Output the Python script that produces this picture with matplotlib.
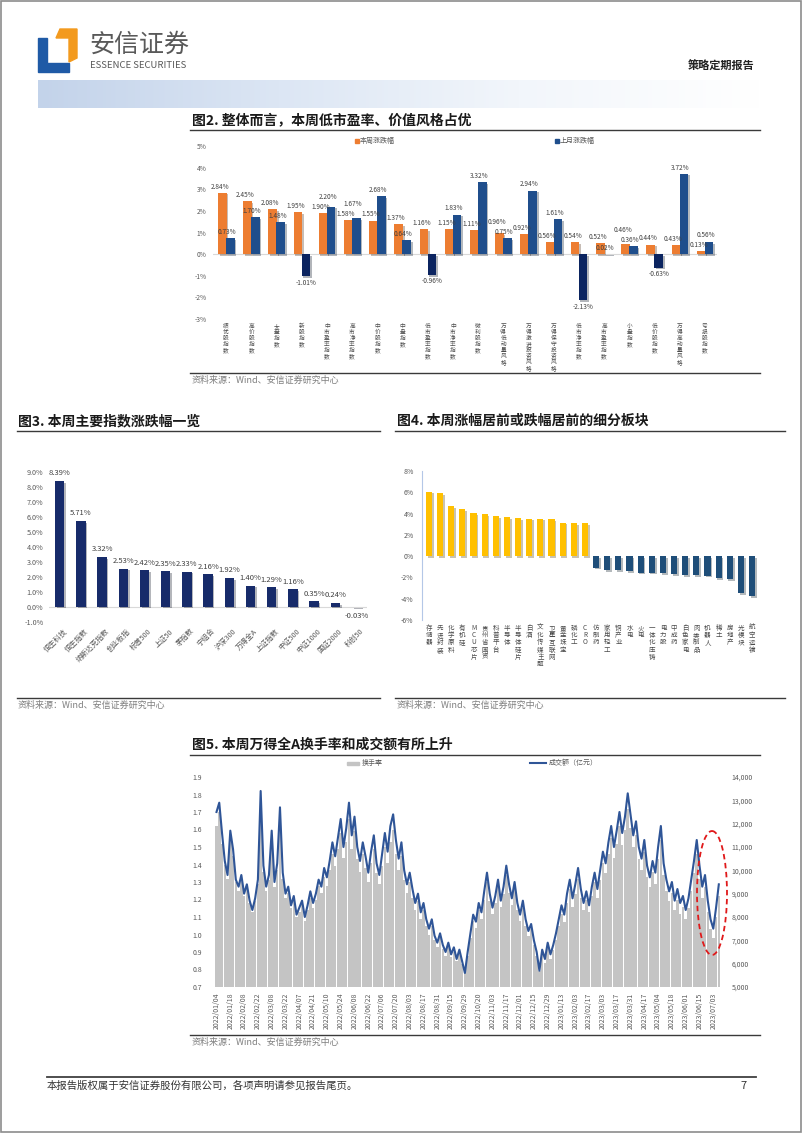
import numpy as np
import matplotlib.pyplot as plt
import matplotlib.patheffects as pe
from matplotlib.patches import Rectangle, Polygon, Ellipse
from matplotlib.colors import LinearSegmentedColormap

plt.rcParams['font.family'] = ['Noto Sans CJK SC', 'DejaVu Sans']
plt.rcParams['axes.unicode_minus'] = False

# ---- fig 2: style indices, this week vs last month (%)
style_names = ['绩优股指数', '高价股指数', '大盘指数', '新股指数', '中市盈率指数', '高市净率指数',
               '中价股指数', '中盘指数', '低市盈率指数', '中市净率指数', '微利股指数', '万得低动量风格',
               '万得激进投资风格', '万得保守投资风格', '低市净率指数', '高市盈率指数', '小盘指数',
               '低价股指数', '万得高动量风格', '亏损股指数']
week_chg = [2.84, 2.45, 2.08, 1.95, 1.90, 1.58, 1.55, 1.37, 1.16, 1.15, 1.11, 0.96, 0.92,
            0.56, 0.54, 0.52, 0.46, 0.44, 0.43, 0.13]
month_chg = [0.73, 1.70, 1.48, -1.01, 2.20, 1.67, 2.68, 0.64, -0.96, 1.83, 3.32, 0.75, 2.94,
             1.61, -2.13, 0.02, 0.36, -0.63, 3.72, 0.56]

# ---- fig 3: major indices this week (%)
index_names = ['恒生科技', '恒生指数', '纳斯达克指数', '创业板指', '标普500', '上证50', '茅指数',
               '宁组合', '沪深300', '万得全A', '上证指数', '中证500', '中证1000', '国证2000', '科创50']
index_chg = [8.39, 5.71, 3.32, 2.53, 2.42, 2.35, 2.33, 2.16, 1.92, 1.40, 1.29, 1.16, 0.35, 0.24, -0.03]

# ---- fig 4: top / bottom sub-sectors (%)
sector_names = ['存储器', '先进封装', '化学原料', '有机硅', 'MCU芯片', '贵州省国资', '科普平台', '半导体',
                '半导体硅片', '白酒', '文化传媒主题', '卫星互联网', '黄金珠宝', '磷化工', 'CRO',
                '仿制药', '家用轻工', '铜产业', '水电', '火电', '一体化压铸', '电力股', '中成药',
                '白色家电', '肉类制品', '机器人', '稀土', '房地产', '光模块', '航空运输']
sector_chg = [6.05, 5.90, 4.72, 4.43, 4.03, 3.96, 3.77, 3.65, 3.58, 3.52, 3.52, 3.49, 3.14, 3.11, 3.08,
              -1.07, -1.29, -1.29, -1.42, -1.54, -1.54, -1.60, -1.70, -1.76, -1.79, -1.82, -2.04,
              -2.14, -3.49, -3.74]

# ---- fig 5: Wind All A turnover rate (%) and amount (亿元), one value per two trading days
turnover = [1.62, 1.70, 1.52, 1.40, 1.32, 1.55, 1.45, 1.30, 1.25, 1.31,
            1.22, 1.27, 1.18, 1.13, 1.19, 1.29, 1.70, 1.36, 1.25, 1.31,
            1.52, 1.27, 1.37, 1.62, 1.32, 1.21, 1.24, 1.15, 1.19, 1.10,
            1.13, 1.17, 1.08, 1.14, 1.21, 1.15, 1.20, 1.28, 1.24, 1.33,
            1.28, 1.37, 1.46, 1.39, 1.49, 1.58, 1.44, 1.53, 1.66, 1.49,
            1.59, 1.43, 1.36, 1.46, 1.38, 1.30, 1.41, 1.49, 1.35, 1.29,
            1.39, 1.50, 1.41, 1.53, 1.60, 1.46, 1.37, 1.45, 1.31, 1.24,
            1.30, 1.21, 1.14, 1.19, 1.09, 1.14, 1.05, 1.00, 1.05, 0.97,
            0.93, 0.98, 0.92, 0.88, 0.93, 0.87, 0.90, 0.85, 0.89, 0.83,
            0.78, 0.88, 0.98, 1.08, 1.04, 1.14, 1.09, 1.20, 1.30, 1.19,
            1.12, 1.18, 1.27, 1.16, 1.23, 1.34, 1.24, 1.17, 1.26, 1.14,
            1.08, 1.15, 1.05, 0.99, 1.03, 0.94, 0.88, 0.79, 0.89, 0.84,
            0.93, 0.86, 0.91, 0.97, 1.05, 1.12, 1.07, 1.18, 1.26, 1.16,
            1.23, 1.32, 1.21, 1.14, 1.20, 1.13, 1.22, 1.30, 1.21, 1.31,
            1.41, 1.35, 1.46, 1.55, 1.44, 1.52, 1.62, 1.51, 1.60, 1.72,
            1.61, 1.50, 1.57, 1.43, 1.37, 1.47, 1.33, 1.27, 1.36, 1.29,
            1.43, 1.54, 1.34, 1.25, 1.19, 1.24, 1.14, 1.20, 1.12, 1.16,
            1.09, 1.15, 1.25, 1.35, 1.46, 1.32, 1.21, 1.27, 1.13, 1.03,
            0.98, 1.10, 1.22]
amount = [12500, 12900, 11600, 10400, 9800, 11700, 10900, 9600, 9300, 9800,
          9000, 9400, 8700, 8300, 8800, 9600, 13400, 10200, 9300, 9800,
          11700, 9500, 10300, 12700, 9900, 9000, 9300, 8500, 8900, 8100,
          8400, 8700, 8000, 8500, 9100, 8600, 9000, 9600, 9300, 10100,
          9700, 10400, 11200, 10600, 11400, 12200, 11000, 11800, 12900, 11500,
          12300, 11000, 10400, 11200, 10600, 9900, 10800, 11500, 10300, 9800,
          10700, 11600, 10800, 11900, 12400, 11300, 10500, 11200, 10000, 9400,
          9900, 9200, 8600, 9000, 8200, 8600, 7900, 7500, 7900, 7200,
          6900, 7300, 6800, 6500, 6900, 6400, 6700, 6200, 6600, 6100,
          5600, 6500, 7300, 8100, 7800, 8600, 8200, 9100, 9900, 9000,
          8400, 8900, 9600, 8700, 9300, 10200, 9400, 8800, 9500, 8600,
          8100, 8700, 7900, 7400, 7700, 7000, 6500, 5700, 6600, 6200,
          6900, 6400, 6800, 7300, 7900, 8500, 8100, 9000, 9600, 8800,
          9400, 10100, 9200, 8600, 9100, 8500, 9300, 9900, 9200, 10000,
          10800, 10300, 11200, 11900, 11000, 11700, 12500, 11600, 12300, 13300,
          12400, 11500, 12100, 11000, 10500, 11300, 10200, 9700, 10400, 9900,
          11000, 11900, 10300, 9600, 9100, 9500, 8700, 9200, 8600, 8900,
          8300, 8800, 9600, 10400, 11300, 10200, 9300, 9800, 8700, 7900,
          7500, 8400, 9400]
date_labels = ['2022/01/04', '2022/01/18', '2022/02/08', '2022/02/22', '2022/03/08', '2022/03/22',
               '2022/04/07', '2022/04/21', '2022/05/10', '2022/05/24', '2022/06/08', '2022/06/22',
               '2022/07/06', '2022/07/20', '2022/08/03', '2022/08/17', '2022/08/31', '2022/09/15',
               '2022/09/29', '2022/10/20', '2022/11/03', '2022/11/17', '2022/12/01', '2022/12/15',
               '2022/12/29', '2023/01/13', '2023/02/03', '2023/02/17', '2023/03/03', '2023/03/17',
               '2023/03/31', '2023/04/17', '2023/05/04', '2023/05/18', '2023/06/01', '2023/06/15',
               '2023/07/03']

W, H = 802, 1133
fig = plt.figure(figsize=(W / 100, H / 100), dpi=100)
page = fig.add_axes([0, 0, 1, 1])
page.axis('off')


def box(x0, y0, x1, y1):
    # axes placed by page pixel coordinates
    a = fig.add_axes([x0 / W, 1 - y1 / H, (x1 - x0) / W, (y1 - y0) / H])
    a.set_facecolor('none')
    for s in a.spines.values():
        s.set_visible(False)
    return a


def stacked_labels(ax, names, ytop, size, step):
    # one character per line, like Excel's stacked category text
    ax.set_xticks([])
    y0 = ax.get_ylim()[0]
    for i, s in enumerate(names):
        px = ax.transData.transform((i, y0))[0]
        for j, ch in enumerate(s):
            page.text(px, ytop + j * step, ch, fontsize=size, color='#4a4a4a', ha='center', va='center')


shadow = [pe.SimplePatchShadow(offset=(1.2, -1.2), alpha=0.3), pe.Normal()]
grey_txt = '#595959'
source = '资料来源：Wind、安信证券研究中心'

# ---- page header / footer
band = LinearSegmentedColormap.from_list('band', ['#C3D3EA', '#DCE6F4', '#F2F6FB', '#FFFFFF'])
page.imshow(np.linspace(0, 1, 256).reshape(1, -1), extent=[38, 760, 108, 80], aspect='auto', cmap=band)
page.add_patch(Rectangle((1, 1), W - 2, H - 2, fill=False, ec='#8c8c8c', lw=1.2))
page.add_patch(Polygon([(38, 38), (47, 38), (47, 63), (69, 63), (69, 72), (38, 72)], color='#1F5AA6'))
page.add_patch(Polygon([(60, 29), (77, 29), (77, 58), (69, 62), (69, 38), (56, 38)], color='#F39A1E'))
page.text(89, 45, '安信证券', fontsize=18, color=grey_txt, va='center')
page.text(90, 66, 'ESSENCE SECURITIES', fontsize=6.9, color=grey_txt, va='center')
page.text(755, 66, '策略定期报告', fontsize=8, color='#222222', va='center', ha='right', weight='bold')
page.plot([47, 756], [1077, 1077], color='#404040', lw=1.3)
page.text(47, 1086, '本报告版权属于安信证券股份有限公司，各项声明请参见报告尾页。', fontsize=7.5,
          color='#333333', va='center')
page.text(740, 1086, '7', fontsize=8, color='#333333', va='center')

# titles, rules and sources
for tx, ty, x0, x1, title in [(192, 120, 190, 760, '图2. 整体而言，本周低市盈率、价值风格占优'),
                              (18, 421, 17, 380, '图3. 本周主要指数涨跌幅一览'),
                              (397, 421, 395, 785, '图4. 本周涨幅居前或跌幅居前的细分板块'),
                              (192, 745, 190, 760, '图5. 本周万得全A换手率和成交额有所上升')]:
    page.text(tx, ty, title, fontsize=10, weight='bold', color='#1a1a1a', va='center')
    page.plot([x0, x1], [ty + 10, ty + 10], color='#3a3a3a', lw=1.0)
for sx, sy, x0, x1 in [(192, 380, 190, 760), (18, 705, 17, 380), (397, 705, 395, 785), (192, 1042, 190, 760)]:
    page.plot([x0, x1], [sy - 7, sy - 7], color='#3a3a3a', lw=1.0)
    page.text(sx, sy, source, fontsize=6.5, color='#7f7f7f', va='center')
page.set_xlim(0, W)
page.set_ylim(H, 0)

# ---- fig 2
ax2 = box(213.4, 146, 717.4, 319)
x = np.arange(len(style_names))
ax2.bar(x - 0.15, week_chg, 0.34, color='#ED7D31', zorder=2, path_effects=shadow)
ax2.bar(x + 0.17, month_chg, 0.34, color=['#1F4E8C' if v >= 0 else '#0B2460' for v in month_chg],
        zorder=3, path_effects=shadow)
ax2.axhline(0, color='#d9d9d9', lw=0.8, zorder=1)
ax2.set_xlim(-0.5, len(style_names) - 0.5)
ax2.set_ylim(-3, 5)
ax2.set_yticks(range(-3, 6))
ax2.set_yticklabels([f'{t}%' for t in range(-3, 6)])
ax2.tick_params(length=0, labelsize=4.8, labelcolor=grey_txt, pad=5)
stacked_labels(ax2, style_names, 326, 4.1, 6.0)
for i, (o, b) in enumerate(zip(week_chg, month_chg)):
    oy, by = o + 0.1, b + 0.1
    if b > 0 and abs(oy - by) < 0.45:
        if by >= oy:
            by = oy + 0.45
        else:
            oy = by + 0.45
    ax2.text(i - 0.25, oy, f'{o:.2f}%', fontsize=4.7, color='#404040', ha='center', va='bottom', zorder=5)
    if b >= 0:
        ax2.text(i + 0.04, by, f'{b:.2f}%', fontsize=4.7, color='#404040', ha='center', va='bottom', zorder=5)
    else:
        ax2.text(i + 0.17, b - 0.12, f'{b:.2f}%', fontsize=4.7, color='#404040', ha='center', va='top', zorder=5)
page.add_patch(Rectangle((354.5, 138.5), 4, 4, color='#ED7D31'))
page.text(360, 140.5, '本周涨跌幅', fontsize=5, color=grey_txt, va='center')
page.add_patch(Rectangle((554.5, 138.5), 4, 4, color='#1F4E8C'))
page.text(560, 140.5, '上月涨跌幅', fontsize=5, color=grey_txt, va='center')

# ---- fig 3
ax3 = box(49.1, 472, 367.1, 621.6)
x3 = np.arange(len(index_names))
ax3.bar(x3, index_chg, 0.44, color='#172B6A', zorder=2, path_effects=shadow)
ax3.axhline(0, color='#d9d9d9', lw=0.8, zorder=1)
ax3.set_xlim(-0.5, len(index_names) - 0.5)
ax3.set_ylim(-1, 9)
ax3.set_yticks(np.arange(-1, 10))
ax3.set_yticklabels([f'{t:.1f}%' for t in np.arange(-1, 10)])
ax3.set_xticks(x3 + 0.15)
ax3.set_xticklabels(index_names, rotation=45, ha='right', rotation_mode='anchor')
ax3.tick_params(length=0, labelsize=5.2, labelcolor=grey_txt)
ax3.tick_params(axis='y', pad=4)
ax3.tick_params(axis='x', pad=4)
for i, v in enumerate(index_chg):
    if v >= 0:
        ax3.text(i, v + 0.25, f'{v:.2f}%', fontsize=5.5, color='#404040', ha='center', va='bottom')
    else:
        ax3.text(i, v - 0.35, f'{v:.2f}%', fontsize=5.5, color='#404040', ha='center', va='top')

# ---- fig 4
ax4 = box(422, 471, 760, 620)
x4 = np.arange(len(sector_names))
ax4.bar(x4, sector_chg, 0.55, color=['#FFC000' if v >= 0 else '#1F4E79' for v in sector_chg],
        zorder=2, path_effects=shadow)
ax4.set_xlim((422 - 429) / 11.14, (760 - 429) / 11.14)
ax4.set_ylim(-6, 8)
ax4.set_yticks(range(-6, 9, 2))
ax4.set_yticklabels([f'{t}%' for t in range(-6, 9, 2)])
ax4.spines['left'].set_visible(True)
ax4.spines['left'].set_color('#B4C7E7')
ax4.tick_params(length=0, labelsize=5, labelcolor=grey_txt, pad=6)
stacked_labels(ax4, sector_names, 628, 4.7, 7.2)

# ---- fig 5
ax5 = box(212, 777, 722, 987)
k = np.arange(len(amount))
ax5.bar(k, turnover, 0.92, color='#C4C4C4', zorder=1)
ax5.set_xlim((212 - 216.5) / 2.76, (722 - 216.5) / 2.76)
ax5.set_ylim(0.7, 1.9)
ax5.set_yticks(np.arange(0.7, 1.95, 0.1))
ax5.set_yticklabels([f'{t:.1f}' for t in np.arange(0.7, 1.95, 0.1)])
ax5.set_xticks(np.arange(0, 5 * len(date_labels), 5))
ax5.set_xticklabels(date_labels, rotation=90)
ax5.tick_params(length=0, labelsize=5, labelcolor=grey_txt)
ax5.tick_params(axis='y', pad=7)
ax5.tick_params(axis='x', pad=4)
ax5r = ax5.twinx()
ax5r.set_facecolor('none')
for s in ax5r.spines.values():
    s.set_visible(False)
ax5r.plot(k, amount, color='#2F5597', lw=1.5, zorder=3)
ax5r.set_ylim(5000, 14000)
ax5r.set_yticks(range(5000, 14001, 1000))
ax5r.set_yticklabels([f'{t:,}' for t in range(5000, 14001, 1000)])
ax5r.tick_params(length=0, labelsize=5, labelcolor=grey_txt, pad=7)
ax5r.add_patch(Ellipse((712, 893), 30, 124, fill=False, ec='#E0191A', ls=(0, (3, 2)), lw=1.3,
                       transform=page.transData, clip_on=False, zorder=5))
page.add_patch(Rectangle((347, 761.5), 12, 3.5, color='#C4C4C4'))
page.text(362, 763, '换手率', fontsize=5, color=grey_txt, va='center')
page.plot([530, 546], [763, 763], color='#2F5597', lw=1.5)
page.text(549, 763, '成交额（亿元）', fontsize=5, color=grey_txt, va='center')

page.set_xlim(0, W)
page.set_ylim(H, 0)
fig.savefig('out.png', dpi=100)
